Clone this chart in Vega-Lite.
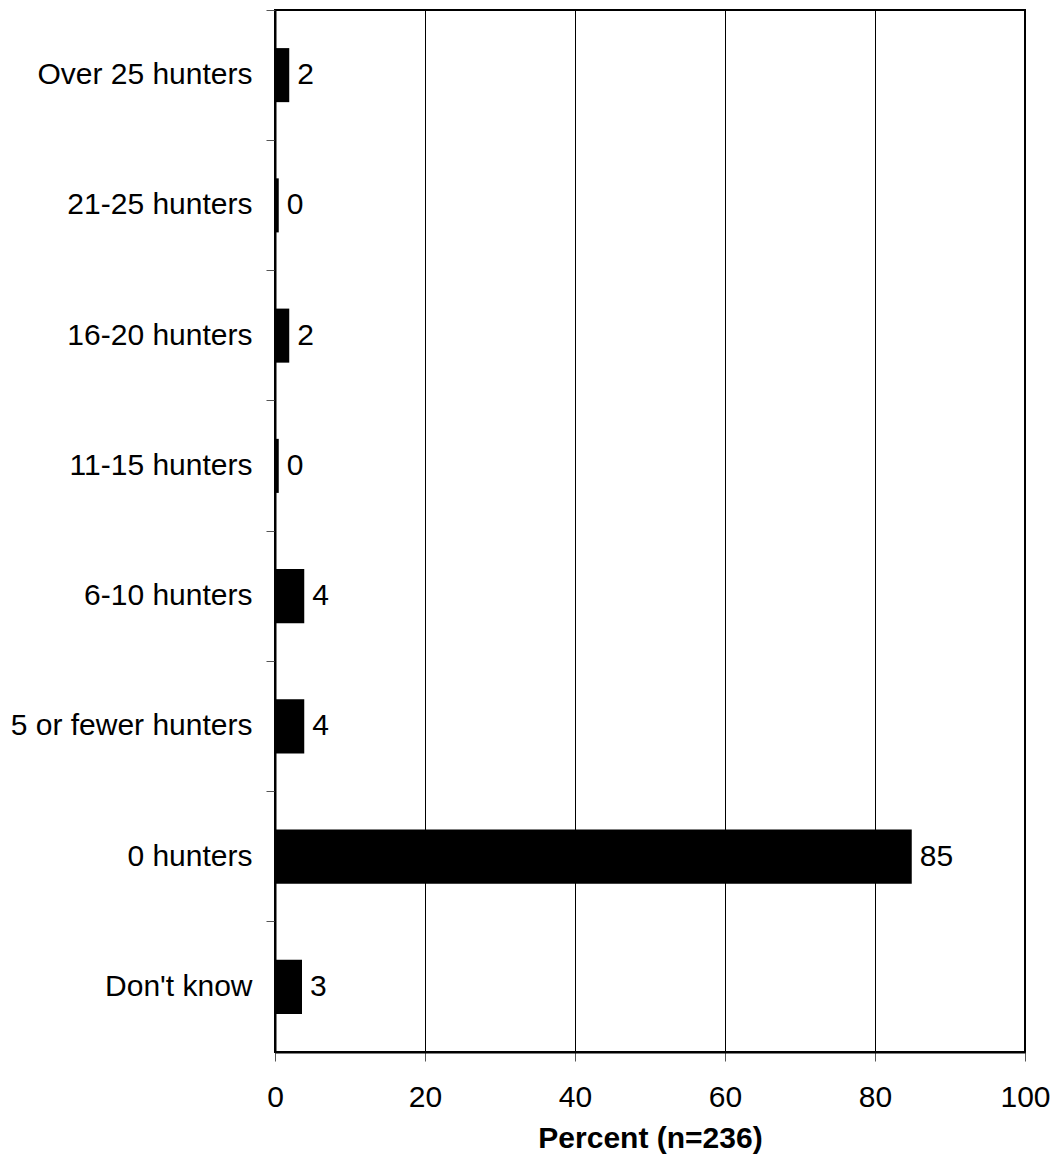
{
  "$schema": "https://vega.github.io/schema/vega-lite/v6.json",
  "width": 750,
  "height": 1042,
  "autosize": "none",
  "padding": {"left": 275, "top": 10, "right": 30, "bottom": 113},
  "background": "white",
  "config": {
    "view": {"stroke": "black", "strokeWidth": 2},
    "font": "Liberation Sans",
    "axis": {"labelFont": "Liberation Sans", "titleFont": "Liberation Sans", "labelColor": "black", "titleColor": "black"}
  },
  "data": {
    "values": [
      {"category": "Over 25 hunters", "percent": 1.9, "label": "2"},
      {"category": "21-25 hunters", "percent": 0.5, "label": "0"},
      {"category": "16-20 hunters", "percent": 1.9, "label": "2"},
      {"category": "11-15 hunters", "percent": 0.5, "label": "0"},
      {"category": "6-10 hunters", "percent": 3.9, "label": "4"},
      {"category": "5 or fewer hunters", "percent": 3.9, "label": "4"},
      {"category": "0 hunters", "percent": 84.9, "label": "85"},
      {"category": "Don't know", "percent": 3.6, "label": "3"}
    ]
  },
  "encoding": {
    "y": {
      "field": "category",
      "type": "nominal",
      "sort": null,
      "scale": {"paddingInner": 0, "paddingOuter": 0},
      "axis": {
        "title": null,
        "grid": false,
        "domainColor": "black",
        "domainWidth": 2,
        "tickColor": "#555",
        "tickSize": 9,
        "bandPosition": 0,
        "labelFontSize": 30,
        "labelLimit": 0,
        "labelPadding": 14
      }
    }
  },
  "layer": [
    {
      "mark": {"type": "bar", "color": "black", "height": {"band": 0.415}},
      "encoding": {
        "x": {
          "field": "percent",
          "type": "quantitative",
          "scale": {"domain": [0, 100]},
          "axis": {
            "values": [0, 20, 40, 60, 80, 100],
            "grid": true,
            "gridColor": "black",
            "gridWidth": 1,
            "gridOpacity": 1,
            "domainColor": "black",
            "domainWidth": 2,
            "tickColor": "#555",
            "tickSize": 9,
            "labelFontSize": 30,
            "labelPadding": 21,
            "labelFlush": false,
            "title": "Percent (n=236)",
            "titleFontSize": 30,
            "titleFontWeight": "bold",
            "titlePadding": 11
          }
        }
      }
    },
    {
      "mark": {"type": "text", "align": "left", "baseline": "middle", "dx": 8, "fontSize": 30, "color": "black", "font": "Liberation Sans"},
      "encoding": {
        "x": {"field": "percent", "type": "quantitative"},
        "text": {"field": "label"}
      }
    }
  ]
}
